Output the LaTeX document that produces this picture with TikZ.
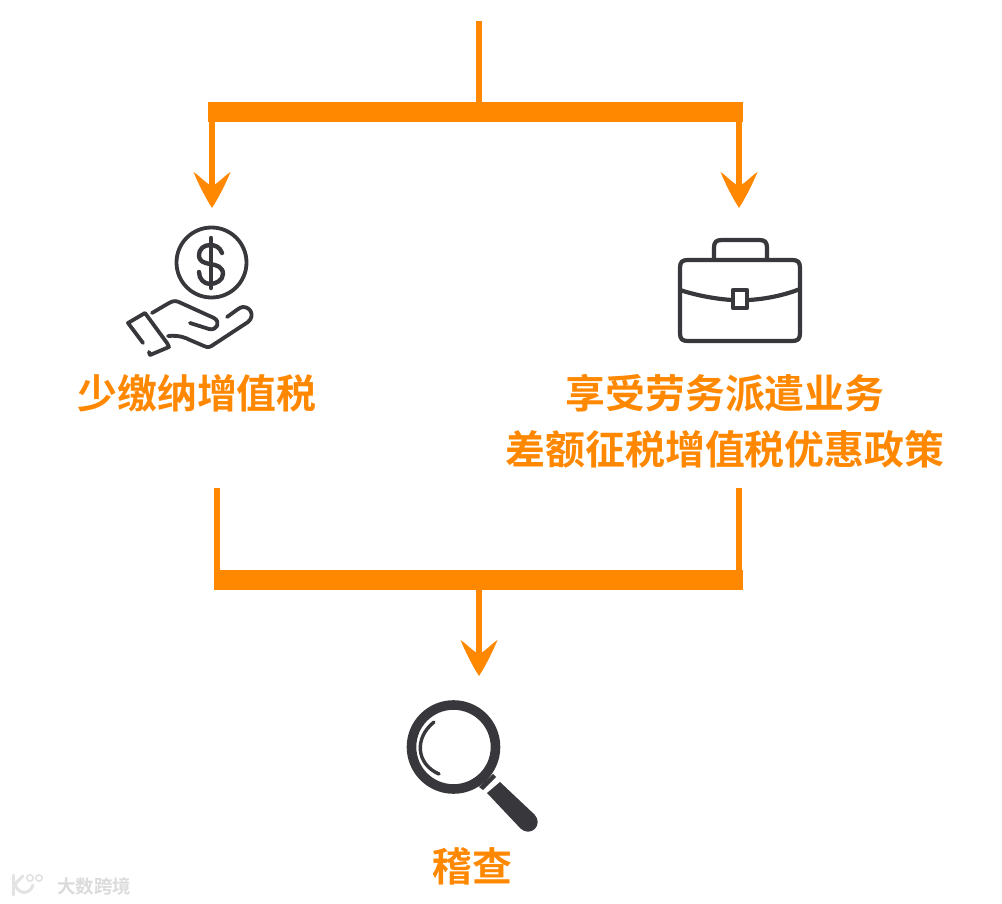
\documentclass[tikz,border=0pt]{standalone}
\usepackage{fontspec}
\newfontfamily\cjk{Noto Sans CJK SC}[BoldFont={* Bold}]
\usetikzlibrary{arrows.meta}
\definecolor{org}{HTML}{FF8800}
\definecolor{ink}{HTML}{38383C}
\pgfdeclarearrow{
  name=CurvedHead,
  setup code={
    \pgfarrowssettipend{36pt}
    \pgfarrowssetlineend{14pt}
    \pgfarrowssetbackend{0pt}
    \pgfarrowssetvisualbackend{14pt}
    \pgfarrowssavethe{\pgfarrowlength}
  },
  drawing code={
    \pgfpathmoveto{\pgfqpoint{36pt}{0pt}}
    \pgfpathcurveto{\pgfqpoint{25pt}{7pt}}{\pgfqpoint{12pt}{13.5pt}}{\pgfqpoint{0pt}{18.5pt}}
    \pgfpathcurveto{\pgfqpoint{5pt}{11pt}}{\pgfqpoint{10pt}{8pt}}{\pgfqpoint{14pt}{0pt}}
    \pgfpathcurveto{\pgfqpoint{10pt}{-8pt}}{\pgfqpoint{5pt}{-11pt}}{\pgfqpoint{0pt}{-18.5pt}}
    \pgfpathcurveto{\pgfqpoint{12pt}{-13.5pt}}{\pgfqpoint{25pt}{-7pt}}{\pgfqpoint{36pt}{0pt}}
    \pgfpathclose
    \pgfusepathqfill
  },
  defaults={}
}
\tikzset{
  x=1pt,y=-1pt,
  bar/.style={draw=org,line width=20pt},
  conn/.style={draw=org,line width=6pt},
  arrowc/.style={draw=org,line width=6pt,-{CurvedHead[]}},
  lbl/.style={text=org,font=\cjk\bfseries\fontsize{39.9}{56}\selectfont,align=center,inner sep=0pt},
  icon/.style={draw=ink,line width=3.8pt,line cap=round,line join=round},
  wmark/.style={draw=gray!22,line width=3pt,line cap=round}
}
\begin{document}
\begin{tikzpicture}
\useasboundingbox (0,0) rectangle (1002,904);
% junctions
\coordinate (top) at (479,21);
\coordinate (tj) at (479,112);
\coordinate (tl) at (208,112);
\coordinate (tr) at (743,112);
\coordinate (tlb) at (212,112);
\coordinate (trb) at (739,112);
\coordinate (la) at (212,208);
\coordinate (ra) at (739,208);
\coordinate (lb) at (217,488);
\coordinate (rb) at (739,488);
\coordinate (bl) at (214,580);
\coordinate (br) at (743,580);
\coordinate (blj) at (217,580);
\coordinate (brj) at (739,580);
\coordinate (bj) at (479,580);
\coordinate (ba) at (479,676);
% connectors
\draw[bar] (tl) -- (tr);
\draw[conn] (top) -- (tj);
\draw[arrowc] (tlb) -- (la);
\draw[arrowc] (trb) -- (ra);
\draw[bar] (bl) -- (br);
\draw[conn] (lb) -- (blj);
\draw[conn] (rb) -- (brj);
\draw[arrowc] (bj) -- (ba);
% labels
\node[lbl] (t1) at (197,393) {少缴纳增值税};
\node[lbl] (t2) at (725,421) {享受劳务派遣业务\\差额征税增值税优惠政策};
\node[lbl] (t3) at (472,866) {稽查};
\node[inner sep=0pt,text=gray!28,font=\cjk\bfseries\fontsize{18.5}{19}\selectfont] (wm) at (94,886) {大数跨境};
% watermark logo
\draw[wmark] (13,875) -- (13,895);
\draw[wmark] (15,884) .. controls (18,895) and (30,895) .. (33,885);
\draw[wmark] (23,876) -- (15,884);
\draw[draw=gray!22,line width=1.6pt] (30,878) circle (3.2) (39,878) circle (3.2);
% coin + hand
\draw[icon] (211.5,262.5) circle (35);
\draw[icon,line width=4.4pt] (222,253) .. controls (220,247) and (215,245) .. (210,245)
  .. controls (203,245) and (199,250) .. (199,255)
  .. controls (199,262) and (205,263) .. (210,264)
  .. controls (217,265) and (223,267) .. (223,274)
  .. controls (223,280) and (216,284) .. (210,284)
  .. controls (204,284) and (199,279) .. (199,272);
\draw[icon,line width=4.4pt] (211,238) -- (211,288);
\draw[icon] (143,343) -- (128,323) -- (145,313) -- (167,343);
\draw[icon] (167,343) -- (169,347) -- (150,355) -- (149,352);
\draw[icon] (152,313) -- (169,303) .. controls (174,300) and (177,301) .. (181,303)
  -- (214,318) .. controls (221,322) and (217,331) .. (209,329) -- (190,323);
\draw[icon] (168,336) .. controls (180,335) and (186,338) .. (190,340)
  -- (204,346) .. controls (208,348) and (210,347) .. (213,345)
  -- (248,322) .. controls (255,316) and (251,307) .. (243,307)
  .. controls (240,307) and (237,310) .. (227,317);
% briefcase
\begin{scope}[icon/.append style={line width=4.2pt}]
\draw[icon] (680,268) .. controls (680,262) and (682,260) .. (688,260) -- (792,260)
  .. controls (798,260) and (800,262) .. (800,268) -- (800,333)
  .. controls (800,339) and (798,341) .. (792,341) -- (688,341)
  .. controls (682,341) and (680,339) .. (680,333) -- cycle;
\draw[icon] (714,259) -- (714,248) .. controls (714,242) and (716,240) .. (722,240)
  -- (759,240) .. controls (765,240) and (767,242) .. (767,248) -- (767,259);
\draw[icon] (680,290) .. controls (695,295) and (715,299) .. (732,300);
\draw[icon] (749,300) .. controls (766,299) and (785,295) .. (800,289);
\draw[icon] (733,290) rectangle (747,308);
\end{scope}
% magnifier
\draw[draw=ink,line width=9.6pt] (453.5,747) circle (42);
\draw[draw=ink,line width=3.4pt,line cap=round] (434,722) .. controls (414,738) and (416,764) .. (439,774);
\fill[ink] (479,787) -- (493,774) -- (496,777) -- (483,790) -- cycle;
\fill[ink] (487,793) -- (500,782) -- (535,815) -- (521,829) -- cycle;
\fill[ink] (528,822) circle (9.7);
\end{tikzpicture}
\end{document}
